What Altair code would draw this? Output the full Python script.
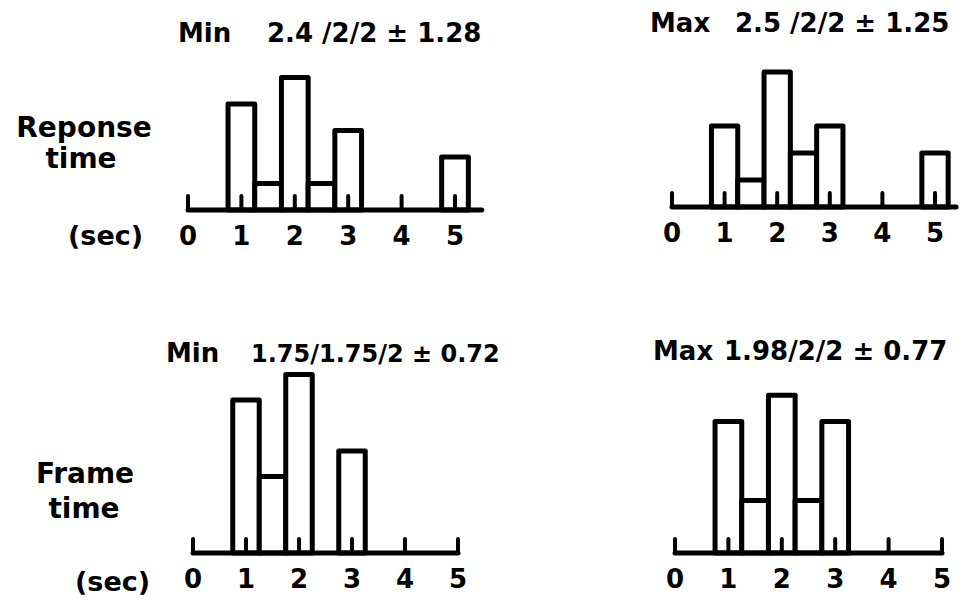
import altair as alt
import pandas as pd

# ---- data ----
bin_centers = [1, 1.5, 2, 2.5, 3, 3.5, 4, 4.5, 5]
resp_min = [4, 1, 5, 1, 3, 0, 0, 0, 2]
resp_max = [3, 1, 5, 2, 3, 0, 0, 0, 2]
frame_min = [6, 3, 7, 0, 4, 0, 0, 0, 0]
frame_max = [5, 2, 6, 2, 5, 0, 0, 0, 0]
tick_values = [0, 1, 2, 3, 4, 5]
bin_width = 0.5
axis_ends = [5.5, 5.4, 5, 5]

panel_kind = ["Min", "Max", "Min", "Max"]
panel_stats = ["2.4 /2/2 \u00b1 1.28", "2.5 /2/2 \u00b1 1.25",
               "1.75/1.75/2 \u00b1 0.72", "1.98/2/2 \u00b1 0.77"]
row_labels = [["Reponse", "time"], ["Frame", "time"]]
unit_label = "(sec)"

FONT = "DejaVu Sans"

# ---- layout (plot-area pixels) ----
layout = [
    dict(xr=[180, 447], y0=202, k=26.5, tx=170, sx=259, ty=34, ss=26),
    dict(xr=[664, 927], y0=199, k=27.0, tx=642, sx=727, ty=24, ss=26),
    dict(xr=[185, 450], y0=545, k=25.5, tx=158, sx=243, ty=354, ss=24),
    dict(xr=[667, 934], y0=545, k=26.3, tx=645, sx=716, ty=352, ss=26),
]


def text_layer(txt, x, y, size, align="left"):
    return alt.Chart(pd.DataFrame({"t": [txt]})).mark_text(
        align=align, baseline="alphabetic", fontSize=size, font=FONT,
        fontWeight="bold", color="black"
    ).encode(x=alt.value(x), y=alt.value(y), text="t:N")


def panel(counts, lay, axis_end):
    df = pd.DataFrame({"c": bin_centers, "n": counts})
    df = df[df.n > 0].copy()
    df["x0"] = df.c - bin_width / 2
    df["x1"] = df.c + bin_width / 2
    df["z"] = 0
    xs = alt.Scale(domain=[0, 5], range=lay["xr"])
    ys = alt.Scale(domain=[0, 8], range=[lay["y0"], lay["y0"] - 8 * lay["k"]])

    bars = alt.Chart(df).mark_rect(
        fill="white", stroke="black", strokeWidth=5, strokeJoin="round"
    ).encode(
        x=alt.X("x0:Q", scale=xs, axis=None), x2="x1:Q",
        y=alt.Y("n:Q", scale=ys, axis=None), y2="z:Q",
    )

    ax = pd.DataFrame({"a": [0], "b": [axis_end], "y": [0]})
    axis_line = alt.Chart(ax).mark_rule(
        stroke="black", strokeWidth=5, strokeCap="round"
    ).encode(
        x=alt.X("a:Q", scale=xs, axis=None), x2="b:Q",
        y=alt.Y("y:Q", scale=ys, axis=None),
    )

    tk = pd.DataFrame({"v": tick_values})
    tk["y"] = 0
    tk["h"] = 14 / lay["k"]
    ticks = alt.Chart(tk).mark_rule(
        stroke="black", strokeWidth=4, strokeCap="round"
    ).encode(
        x=alt.X("v:Q", scale=xs, axis=None),
        y=alt.Y("y:Q", scale=ys, axis=None), y2="h:Q",
    )
    labels = alt.Chart(tk).mark_text(
        align="center", baseline="alphabetic", dy=35, fontSize=26,
        font=FONT, fontWeight="bold", color="black"
    ).encode(
        x=alt.X("v:Q", scale=xs, axis=None),
        y=alt.Y("y:Q", scale=ys, axis=None),
        text=alt.Text("v:Q", format="d"),
    )
    return alt.layer(bars, axis_line, ticks, labels)


series = [resp_min, resp_max, frame_min, frame_max]
panels = [panel(s, lay, e) for s, lay, e in zip(series, layout, axis_ends)]

texts = []
for kind, st, lay in zip(panel_kind, panel_stats, layout):
    texts.append(text_layer(kind, lay["tx"], lay["ty"], 26))
    texts.append(text_layer(st, lay["sx"], lay["ty"], lay["ss"]))

texts += [
    text_layer(row_labels[0][0], 76, 129, 28, "center"),
    text_layer(row_labels[0][1], 73, 160, 28, "center"),
    text_layer(unit_label, 60, 237, 27),
    text_layer(row_labels[1][0], 77, 475, 28, "center"),
    text_layer(row_labels[1][1], 76, 510, 28, "center"),
    text_layer(unit_label, 67, 583, 27),
]

chart = alt.layer(*panels, *texts).resolve_scale(
    x="independent", y="independent"
).properties(
    width=956, height=590, padding=0, background="white",
    autosize=alt.AutoSizeParams(type="none"),
).configure_view(stroke=None)

chart.save("out.html", embed_options={"renderer": "svg", "actions": False})
